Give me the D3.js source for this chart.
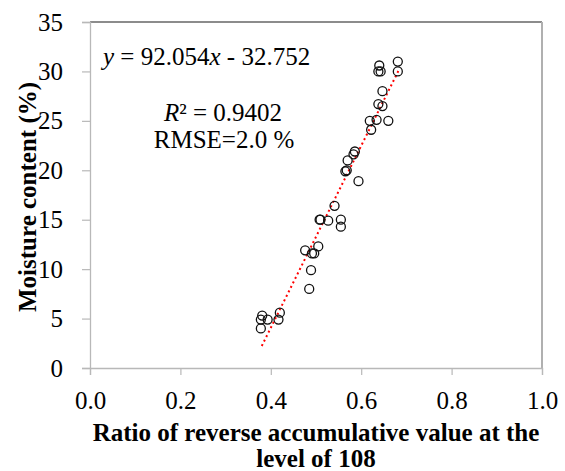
<!DOCTYPE html>
<html>
<head>
<meta charset="utf-8">
<script src="https://cdn.jsdelivr.net/npm/d3@7"></script>
<style>
  body { margin: 0; background: #fff; }
  svg { display: block; font-family: "Liberation Serif", "Times New Roman", serif; }
</style>
</head>
<body>
<div id="chart"></div>
<script>
// measured samples
var ratio = [0.476, 0.505, 0.491, 0.496, 0.489, 0.485, 0.381, 0.378, 0.393, 0.378, 0.420, 0.417,
             0.586, 0.583, 0.570, 0.568, 0.565, 0.594, 0.541, 0.510, 0.508, 0.527, 0.555, 0.555,
             0.640, 0.638, 0.643, 0.681, 0.681, 0.647, 0.638, 0.647, 0.619, 0.634, 0.660, 0.622];
var moisture = [11.9, 12.3, 11.6, 11.6, 9.9, 8.0, 5.3, 4.9, 4.9, 4.0, 5.6, 4.9,
                21.9, 21.6, 21.0, 20.0, 19.9, 18.9, 16.4, 15.0, 15.0, 14.9, 15.0, 14.3,
                30.6, 30.0, 30.0, 31.0, 30.0, 28.0, 26.7, 26.5, 25.0, 25.1, 25.0, 24.1];

var xTicks = [0, 0.2, 0.4, 0.6, 0.8, 1.0];
var yTicks = [0, 5, 10, 15, 20, 25, 30, 35];

var slope = 92.054, intercept = -32.752;
var fitRange = [0.38, 0.684];

var W = 565, H = 471;
var m = { left: 90, top: 22, right: 23, bottom: 103 };
var w = W - m.left - m.right, h = H - m.top - m.bottom;
var fs = 25;

var svg = d3.select("#chart").append("svg")
  .attr("width", W)
  .attr("height", H);

var g = svg.append("g").attr("transform", "translate(" + m.left + "," + m.top + ")");

var x = d3.scaleLinear().domain([0, 1]).range([0, w]);
var y = d3.scaleLinear().domain([0, 35]).range([h, 0]);

// frame (top and right)
g.append("line").attr("x1", 0).attr("x2", w).attr("y1", 0).attr("y2", 0)
  .attr("stroke", "#666").attr("stroke-width", 1.3);
g.append("line").attr("x1", w).attr("x2", w).attr("y1", 0).attr("y2", h)
  .attr("stroke", "#b0b0b0").attr("stroke-width", 2);

var xAxis = g.append("g")
  .attr("transform", "translate(0," + h + ")")
  .call(d3.axisBottom(x).tickValues(xTicks).tickSize(7).tickPadding(16).tickFormat(d3.format(".1f")));

var yAxis = g.append("g")
  .call(d3.axisLeft(y).tickValues(yTicks).tickSize(8).tickPadding(19).tickFormat(d3.format("d")));

[xAxis, yAxis].forEach(function(a) {
  a.select(".domain").attr("stroke", "#b8b8b8").attr("stroke-width", 1.3);
  a.selectAll(".tick line").attr("stroke", "#b8b8b8").attr("stroke-width", 1.2);
  a.selectAll("text")
    .attr("font-family", "Liberation Serif, Times New Roman, serif")
    .attr("font-size", fs)
    .attr("fill", "#000");
});

// fitted line
g.append("line")
  .attr("x1", x(fitRange[0]))
  .attr("y1", y(slope * fitRange[0] + intercept))
  .attr("x2", x(fitRange[1]))
  .attr("y2", y(slope * fitRange[1] + intercept))
  .attr("stroke", "#ff0000")
  .attr("stroke-width", 2)
  .attr("stroke-dasharray", "2,3");

// points
g.selectAll("circle.pt").data(ratio)
  .enter()
  .append("circle")
  .attr("class", "pt")
  .attr("cx", function(d) { return x(d); })
  .attr("cy", function(d, i) { return y(moisture[i]); })
  .attr("r", 4.5)
  .attr("fill", "none")
  .attr("stroke", "#111")
  .attr("stroke-width", 1.3);

// annotations
var eq = g.append("text")
  .attr("x", 13)
  .attr("y", 43)
  .attr("font-size", fs);
eq.append("tspan").attr("font-style", "italic").text("y");
eq.append("tspan").text(" = 92.054");
eq.append("tspan").attr("font-style", "italic").text("x");
eq.append("tspan").text(" - 32.752");

var r2 = g.append("text")
  .attr("x", 133)
  .attr("y", 99)
  .attr("text-anchor", "middle")
  .attr("font-size", fs);
r2.append("tspan").attr("font-style", "italic").text("R");
r2.append("tspan").text("² = 0.9402");

g.append("text")
  .attr("x", 134)
  .attr("y", 126)
  .attr("text-anchor", "middle")
  .attr("font-size", fs)
  .text("RMSE=2.0 %");

// axis titles
svg.append("text")
  .attr("x", 316)
  .attr("y", 441)
  .attr("text-anchor", "middle")
  .attr("font-size", fs)
  .attr("font-weight", "bold")
  .text("Ratio of reverse accumulative value at the");

svg.append("text")
  .attr("x", 316)
  .attr("y", 467)
  .attr("text-anchor", "middle")
  .attr("font-size", fs)
  .attr("font-weight", "bold")
  .text("level of 108");

svg.append("text")
  .attr("transform", "translate(36,197) rotate(-90)")
  .attr("text-anchor", "middle")
  .attr("font-size", fs)
  .attr("font-weight", "bold")
  .text("Moisture content (%)");
</script>
</body>
</html>
